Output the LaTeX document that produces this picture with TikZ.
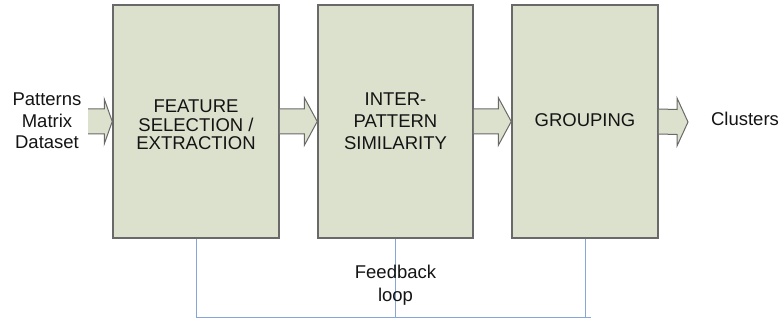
\documentclass[tikz,border=0pt]{standalone}
\usepackage{fontspec}
\setmainfont{Liberation Sans}
\usetikzlibrary{calc}
\definecolor{boxfill}{RGB}{220,225,205}
\definecolor{boxline}{RGB}{105,105,105}
\definecolor{fbline}{RGB}{135,165,215}
\definecolor{txt}{RGB}{20,20,20}
\tikzset{
  stagebox/.style={draw=boxline, line width=1.5pt, fill=boxfill, inner sep=0pt},
  arrline/.style={draw=boxline, line width=1pt, line join=miter},
  fbl/.style={draw=fbline, line width=0.8pt},
  lbl/.style={inner sep=0pt, anchor=north, align=center, text=txt},
}
\newcommand\blockarrow[5]{% #1 start, #2 tip, #3 body half, #4 head half, #5 head length
  \fill[boxfill] ($(#1)+(0,#3)$) -- ($(#2)+(-#5,#3)$) -- ($(#2)+(-#5,#4)$) -- (#2)
     -- ($(#2)+(-#5,-#4)$) -- ($(#2)+(-#5,-#3)$) -- ($(#1)+(0,-#3)$) -- cycle;
  \draw[arrline] ($(#1)+(0,#3)$) -- ($(#2)+(-#5,#3)$) -- ($(#2)+(-#5,#4)$) -- (#2)
     -- ($(#2)+(-#5,-#4)$) -- ($(#2)+(-#5,-#3)$) -- ($(#1)+(0,-#3)$);
}
\begin{document}
\begin{tikzpicture}[x=1pt, y=-1pt]
\useasboundingbox (0,0) rectangle (782,320);
% boxes
\node[stagebox, minimum width=166pt, minimum height=233pt] (b1) at (196,121.5) {};
\node[stagebox, minimum width=155pt, minimum height=233pt] (b2) at (395.5,121.5) {};
\node[stagebox, minimum width=146pt, minimum height=233pt] (b3) at (585,121.5) {};
% box texts
\node[lbl, font=\fontsize{18.5}{18.4}\selectfont] (t1) at (196,100) {FEATURE\\SELECTION /\\EXTRACTION};
\node[lbl, font=\fontsize{18.5}{22}\selectfont] (t2) at (395.5,93) {INTER-\\PATTERN\\SIMILARITY};
\node[lbl, font=\fontsize{18.5}{22}\selectfont] (t3) at (585,113.5) {GROUPING};
% outside texts
\node[lbl, font=\fontsize{18.5}{21.5}\selectfont] (inp) at (47,93) {Patterns\\Matrix\\Dataset};
\node[lbl, font=\fontsize{18.5}{21.5}\selectfont] (outp) at (745,112) {Clusters};
% block arrows
\coordinate (instart) at (88,121.5);
\coordinate (outtip) at (688,122);
\blockarrow{instart}{b1.west}{12.5}{22.5}{8}
\blockarrow{b1.east}{b2.west}{12.5}{24}{13}
\blockarrow{b2.east}{b3.west}{12.5}{24}{13}
\blockarrow{b3.east}{outtip}{12.5}{24}{11}
% feedback loop
\coordinate (fb1) at (b1.south |- 0,317);
\coordinate (fb2) at (b2.south |- 0,317);
\coordinate (fb3) at (b3.south |- 0,317);
\coordinate (fbend) at ($(fb3)+(6,0)$);
\draw[fbl] (b1.south) -- (fb1) -- (fbend);
\draw[fbl] (b2.south) -- (fb2);
\draw[fbl] (b3.south) -- (fb3);
\node[lbl, font=\fontsize{18.5}{23.5}\selectfont] (fbtext) at (395.5,264.5) {Feedback\\loop};
\end{tikzpicture}
\end{document}
